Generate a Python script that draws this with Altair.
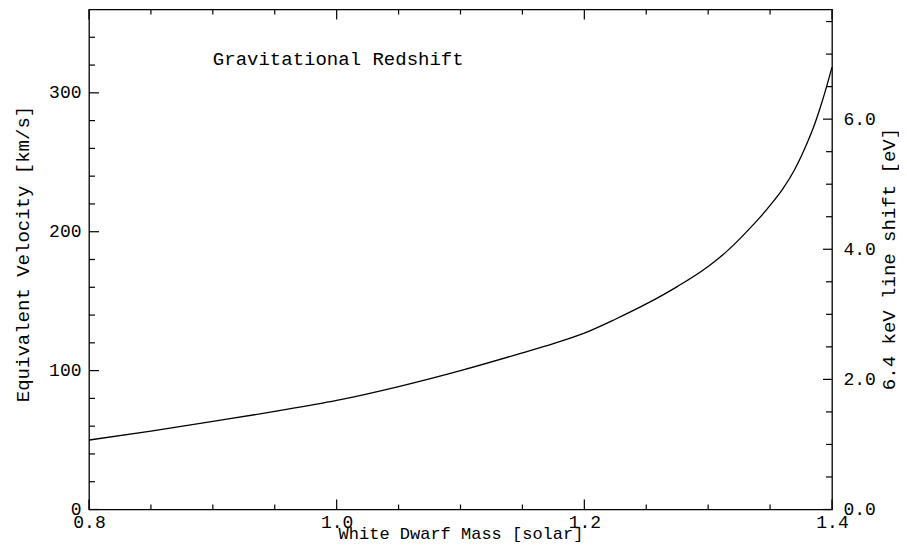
import altair as alt
import pandas as pd

# White dwarf mass [solar] vs equivalent velocity [km/s]
mass = [0.80, 0.85, 0.90, 0.95, 1.00, 1.05, 1.10, 1.15, 1.175, 1.20, 1.225, 1.25, 1.275,
        1.30, 1.31, 1.32, 1.33, 1.34, 1.35, 1.36, 1.37, 1.38, 1.385, 1.39, 1.395, 1.40]
velocity = [50.0, 56.4, 63.4, 70.6, 78.5, 88.5, 100.0, 112.8, 119.5, 127.0, 137.0, 148.0, 160.5,
            175.0, 182.0, 190.0, 199.0, 208.5, 219.0, 230.5, 245.0, 264.0, 275.0, 288.0, 302.5, 318.5]

# axis ticks
x_major = [0.8, 1.0, 1.2, 1.4]
x_minor = [0.85, 0.9, 0.95, 1.05, 1.1, 1.15, 1.25, 1.3, 1.35]
v_major = [0, 100, 200, 300]
v_minor = [20, 40, 60, 80, 120, 140, 160, 180, 220, 240, 260, 280, 320, 340]
ev_major = [0.0, 2.0, 4.0, 6.0]
ev_minor = [0.5, 1.0, 1.5, 2.5, 3.0, 3.5, 4.5, 5.0, 5.5, 6.5, 7.0, 7.5]

V_MAX = 360.0
EV_MAX = V_MAX * 6400.0 / 299792.458
W, H = 743, 500
FONT = "Liberation Mono"

xs = alt.Scale(domain=[0.8, 1.4], nice=False, zero=False)
vs = alt.Scale(domain=[0, V_MAX], nice=False, zero=False)
es = alt.Scale(domain=[0, EV_MAX], nice=False, zero=False)

x_axis = alt.Axis(
    values=x_major, format=".1f", ticks=False, tickSize=0, domain=False, grid=False,
    labelPadding=4, labelFlush=False, labelOverlap=False,
    title="White Dwarf Mass [solar]", titleFontSize=17, titleBaseline="top", titleY=16)
v_axis = alt.Axis(
    values=v_major, format="d", ticks=False, tickSize=0, domain=False, grid=False,
    labelPadding=8, labelFlush=False, labelOverlap=False,
    title="Equivalent Velocity [km/s]", titleX=-57, titleY=244,
    titleBaseline="bottom", titleAngle=270)
ev_axis = alt.Axis(
    orient="right", values=ev_major, format=".1f", ticks=False, tickSize=0, domain=False,
    grid=False, labelPadding=11, labelFlush=False, labelOverlap=False,
    title="6.4 keV line shift [eV]", titleX=66, titleY=249,
    titleAngle=270, titleBaseline="bottom")

curve_df = pd.DataFrame({"mass": mass, "v": velocity})

curve = alt.Chart(curve_df).mark_line(color="black", strokeWidth=1.3, interpolate="monotone").encode(
    x=alt.X("mass:Q", scale=xs, axis=x_axis),
    y=alt.Y("v:Q", scale=vs, axis=v_axis),
)

def vrules(vals, length, side):
    df = pd.DataFrame({"v": vals})
    if side == "left":
        xx, xx2 = alt.value(0), alt.value(length)
    else:
        xx, xx2 = alt.value(W - length), alt.value(W)
    return alt.Chart(df).mark_rule(color="black", strokeWidth=1.2).encode(
        y=alt.Y("v:Q", scale=vs, axis=v_axis), x=xx, x2=xx2)

def xrules(vals, length, side):
    df = pd.DataFrame({"mass": vals})
    if side == "bottom":
        yy, yy2 = alt.value(H - length), alt.value(H)
    else:
        yy, yy2 = alt.value(0), alt.value(length)
    return alt.Chart(df).mark_rule(color="black", strokeWidth=1.2).encode(
        x=alt.X("mass:Q", scale=xs, axis=x_axis), y=yy, y2=yy2)

label_df = pd.DataFrame({"mass": [0.9], "v": [320], "t": ["Gravitational Redshift"]})
label = alt.Chart(label_df).mark_text(
    font=FONT, fontSize=19, align="left", baseline="alphabetic", color="black"
).encode(x=alt.X("mass:Q", scale=xs, axis=x_axis), y=alt.Y("v:Q", scale=vs, axis=v_axis), text="t:N")

left = alt.layer(
    curve,
    vrules(v_minor, 6, "left"), vrules(v_major, 10, "left"),
    xrules(x_minor, 5, "bottom"), xrules(x_major, 10, "bottom"),
    xrules(x_minor, 5, "top"), xrules(x_major, 10, "top"),
    label,
)

ev_min_df = pd.DataFrame({"ev": ev_minor})
ev_maj_df = pd.DataFrame({"ev": ev_major})
right_minor = alt.Chart(ev_min_df).mark_rule(color="black", strokeWidth=1.2).encode(
    y=alt.Y("ev:Q", scale=es, axis=ev_axis),
    x=alt.value(W - 6), x2=alt.value(W),
)
right_major = alt.Chart(ev_maj_df).mark_rule(color="black", strokeWidth=1.2).encode(
    y=alt.Y("ev:Q", scale=es, axis=ev_axis), x=alt.value(W - 9), x2=alt.value(W),
)
right = alt.layer(right_minor, right_major)

chart = alt.layer(left, right).resolve_scale(y="independent").properties(
    width=W, height=H,
    autosize=alt.AutoSizeParams(type="none"),
    padding={"left": 81, "top": 1.5, "right": 67, "bottom": 33.5},
).configure_view(stroke="black", strokeWidth=1.3).configure_axis(
    labelFont=FONT, labelFontSize=18, labelColor="black",
    titleFont=FONT, titleFontSize=19, titleFontWeight="normal", titleColor="black",
)

chart.save("out.html", embed_options={"renderer": "svg", "actions": False})
